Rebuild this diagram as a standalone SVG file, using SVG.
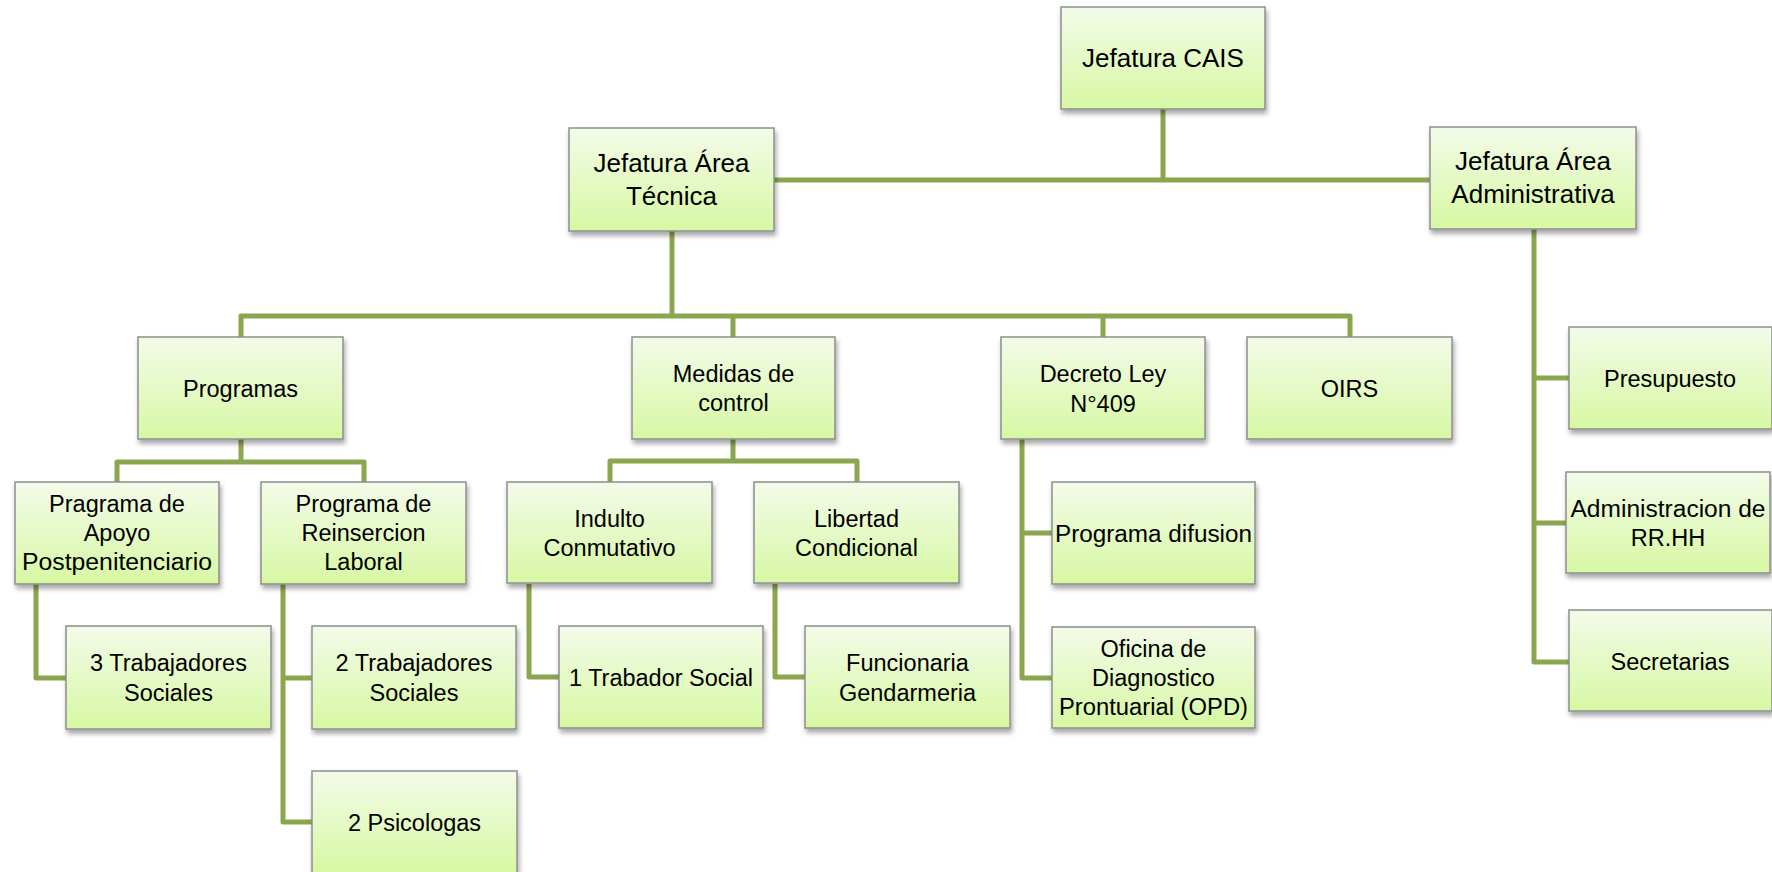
<svg xmlns="http://www.w3.org/2000/svg" width="1772" height="872" viewBox="0 0 1772 872">
<defs>
<linearGradient id="g" x1="0" y1="0" x2="0" y2="1">
<stop offset="0" stop-color="#f3fbe9"/>
<stop offset="1" stop-color="#d7f8a3"/>
</linearGradient>
<filter id="sh" x="-10%" y="-10%" width="125%" height="135%">
<feDropShadow dx="1.5" dy="4" stdDeviation="2.5" flood-color="#000" flood-opacity="0.35"/>
</filter>
</defs>
<style>
rect.b{fill:url(#g);stroke:#8e8e8e;stroke-width:1.5;filter:url(#sh)}
text{font-family:"Liberation Sans",Arial,sans-serif;font-size:23.5px;fill:#000;text-anchor:middle}
text.h{font-size:26px}
#connectors path{fill:none;stroke:#8aa74f;stroke-width:5;stroke-linejoin:round}
</style>
<rect width="1772" height="872" fill="#fff"/>
<g id="connectors">
<path d="M1163 109 V180"/>
<path d="M774 180 H1430"/>
<path d="M672 231 V316"/>
<path d="M241 337 V316 H1350 V337"/>
<path d="M733 316 V337"/>
<path d="M1103 316 V337"/>
<path d="M241 439 V462"/>
<path d="M117 482 V462 H364 V482"/>
<path d="M733 439 V461"/>
<path d="M610 482 V461 H857 V482"/>
<path d="M36 584 V678 H66"/>
<path d="M283 584 V822 H312"/>
<path d="M283 678 H312"/>
<path d="M529 584 V677 H559"/>
<path d="M775 584 V677 H805"/>
<path d="M1022 439 V678 H1052"/>
<path d="M1022 533 H1052"/>
<path d="M1534 229 V662 H1569"/>
<path d="M1534 378 H1569"/>
<path d="M1534 523 H1566"/>
</g>
<g id="cais"><rect class="b" x="1061" y="7" width="204" height="102"/><text class="h" x="1163" y="67">Jefatura CAIS</text></g>
<g id="tecnica"><rect class="b" x="569" y="128" width="205" height="103"/><text class="h" x="671.5" y="172">Jefatura Área</text><text class="h" x="671.5" y="205">Técnica</text></g>
<g id="administrativa"><rect class="b" x="1430" y="127" width="206" height="102"/><text class="h" x="1533" y="170">Jefatura Área</text><text class="h" x="1533" y="203">Administrativa</text></g>
<g id="programas"><rect class="b" x="138" y="337" width="205" height="102"/><text x="240.5" y="397">Programas</text></g>
<g id="medidas"><rect class="b" x="632" y="337" width="203" height="102"/><text x="733.5" y="382">Medidas de</text><text x="733.5" y="411">control</text></g>
<g id="decreto"><rect class="b" x="1001" y="337" width="204" height="102"/><text x="1103" y="382">Decreto Ley</text><text x="1103" y="412">N°409</text></g>
<g id="oirs"><rect class="b" x="1247" y="337" width="205" height="102"/><text x="1349.5" y="397">OIRS</text></g>
<g id="apoyo"><rect class="b" x="15" y="482" width="204" height="102"/><text x="117" y="512">Pragrama de</text><text x="117" y="541">Apoyo</text><text x="117" y="570" textLength="190" lengthAdjust="spacingAndGlyphs">Postpenitenciario</text></g>
<g id="reinsercion"><rect class="b" x="261" y="482" width="205" height="102"/><text x="363.5" y="512">Programa de</text><text x="363.5" y="541">Reinsercion</text><text x="363.5" y="570">Laboral</text></g>
<g id="indulto"><rect class="b" x="507" y="482" width="205" height="101"/><text x="609.5" y="527">Indulto</text><text x="609.5" y="556">Conmutativo</text></g>
<g id="libertad"><rect class="b" x="754" y="482" width="205" height="101"/><text x="856.5" y="527">Libertad</text><text x="856.5" y="556">Condicional</text></g>
<g id="difusion"><rect class="b" x="1052" y="482" width="203" height="102"/><text x="1153.5" y="542" textLength="197" lengthAdjust="spacingAndGlyphs">Programa difusion</text></g>
<g id="tres-trabajadores"><rect class="b" x="66" y="626" width="205" height="103"/><text x="168.5" y="671">3 Trabajadores</text><text x="168.5" y="701">Sociales</text></g>
<g id="dos-trabajadores"><rect class="b" x="312" y="626" width="204" height="103"/><text x="414" y="671">2 Trabajadores</text><text x="414" y="701">Sociales</text></g>
<g id="psicologas"><rect class="b" x="312" y="771" width="205" height="102"/><text x="414.5" y="831">2 Psicologas</text></g>
<g id="trabador-social"><rect class="b" x="559" y="626" width="204" height="102"/><text x="661" y="686" textLength="184" lengthAdjust="spacingAndGlyphs">1 Trabador Social</text></g>
<g id="funcionaria"><rect class="b" x="805" y="626" width="205" height="102"/><text x="907.5" y="671">Funcionaria</text><text x="907.5" y="701">Gendarmeria</text></g>
<g id="oficina"><rect class="b" x="1052" y="627" width="203" height="101"/><text x="1153.5" y="657">Oficina de</text><text x="1153.5" y="686">Diagnostico</text><text x="1153.5" y="715" textLength="189" lengthAdjust="spacingAndGlyphs">Prontuarial (OPD)</text></g>
<g id="presupuesto"><rect class="b" x="1569" y="327" width="203" height="102"/><text x="1670" y="387">Presupuesto</text></g>
<g id="rrhh"><rect class="b" x="1566" y="472" width="204" height="101"/><text x="1668" y="517" textLength="195" lengthAdjust="spacingAndGlyphs">Administracion de</text><text x="1668" y="546">RR.HH</text></g>
<g id="secretarias"><rect class="b" x="1569" y="610" width="203" height="101"/><text x="1670" y="670">Secretarias</text></g>
</svg>
